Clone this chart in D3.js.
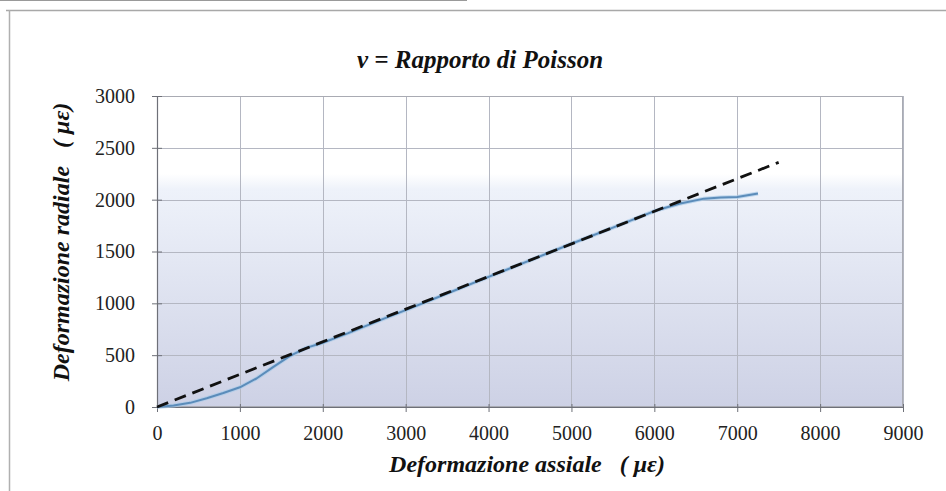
<!DOCTYPE html>
<html>
<head>
<meta charset="utf-8">
<script src="https://cdn.jsdelivr.net/npm/d3@7"></script>
<style>
  html, body { margin: 0; padding: 0; background: #fff; }
  svg { display: block; }
</style>
</head>
<body>
<svg id="chart" width="946" height="491"></svg>
<script>
// Measured strain: axial vs radial (microstrain)
const axialStrain  = [0, 200, 400, 600, 800, 1000, 1200, 1400, 1600, 1800, 2000, 2300, 2700, 3000, 3500, 4000, 4500, 5000, 5500, 6000, 6300, 6600, 6800, 7000, 7250];
const radialStrain = [0, 15, 40, 85, 135, 190, 275, 385, 490, 570, 620, 710, 840, 935, 1095, 1255, 1415, 1575, 1730, 1890, 1960, 2010, 2020, 2025, 2060];

// Linear fit (Poisson ratio line)
const fitAxial  = [0, 7500];
const fitRadial = [0, 2360];

const xTicks = [0, 1000, 2000, 3000, 4000, 5000, 6000, 7000, 8000, 9000];
const yTicks = [0, 500, 1000, 1500, 2000, 2500, 3000];

const titleText  = "ν = Rapporto di Poisson";
const xTitleText = "Deformazione assiale\u00a0\u00a0\u00a0(\u00a0με)";
const yTitleText = "Deformazione radiale\u00a0\u00a0\u00a0(\u00a0με)";

const svg = d3.select("#chart");
const plot = { left: 157, right: 903, top: 96, bottom: 407 };

const x = d3.scaleLinear().domain([0, 9000]).range([plot.left, plot.right]);
const y = d3.scaleLinear().domain([0, 3000]).range([plot.bottom, plot.top]);

// outer frame lines
svg.append("line").attr("x1", 0).attr("x2", 467).attr("y1", 0.5).attr("y2", 0.5)
  .attr("stroke", "#9a9a9a").attr("stroke-width", 1);
svg.append("line").attr("x1", 6).attr("x2", 946).attr("y1", 10.5).attr("y2", 10.5)
  .attr("stroke", "#a8a8a8").attr("stroke-width", 1.5);
svg.append("line").attr("x1", 9.5).attr("x2", 9.5).attr("y1", 10).attr("y2", 491)
  .attr("stroke", "#b0b0b0").attr("stroke-width", 1.5);

// plot background gradient
const defs = svg.append("defs");
const grad = defs.append("linearGradient").attr("id", "bg")
  .attr("x1", 0).attr("x2", 0).attr("y1", 0).attr("y2", 1);
grad.append("stop").attr("offset", "0%").attr("stop-color", "#ffffff");
grad.append("stop").attr("offset", "25%").attr("stop-color", "#ffffff");
grad.append("stop").attr("offset", "30%").attr("stop-color", "#eef2fa");
grad.append("stop").attr("offset", "100%").attr("stop-color", "#cdd1e5");

svg.append("rect")
  .attr("x", plot.left).attr("y", plot.top)
  .attr("width", plot.right - plot.left).attr("height", plot.bottom - plot.top)
  .attr("fill", "url(#bg)");

// gridlines
const grid = svg.append("g").attr("stroke", "#b4b7c2").attr("stroke-width", 1);
grid.selectAll("line.v").data(xTicks).join("line").attr("class", "v")
  .attr("x1", d => Math.round(x(d)) + 0.5).attr("x2", d => Math.round(x(d)) + 0.5)
  .attr("y1", plot.top).attr("y2", plot.bottom);
grid.selectAll("line.h").data(yTicks).join("line").attr("class", "h")
  .attr("x1", plot.left).attr("x2", plot.right)
  .attr("y1", d => Math.round(y(d)) + 0.5).attr("y2", d => Math.round(y(d)) + 0.5);

svg.append("rect")
  .attr("x", plot.left + 0.5).attr("y", plot.top + 0.5)
  .attr("width", plot.right - plot.left - 1).attr("height", plot.bottom - plot.top - 1)
  .attr("fill", "none").attr("stroke", "#a9abb3").attr("stroke-width", 1);

// axes
const tickFont = "'Liberation Serif', 'Times New Roman', serif";
const xAxis = svg.append("g")
  .attr("transform", `translate(0,${plot.bottom})`)
  .call(d3.axisBottom(x).tickValues(xTicks).tickSizeInner(5).tickSizeOuter(0).tickPadding(14).tickFormat(d3.format("d")));
const yAxis = svg.append("g")
  .attr("transform", `translate(${plot.left},0)`)
  .call(d3.axisLeft(y).tickValues(yTicks).tickSizeInner(5).tickSizeOuter(0).tickPadding(17).tickFormat(d3.format("d")));
[xAxis, yAxis].forEach(g => {
  g.select(".domain").attr("stroke", "#6e7078").attr("stroke-width", 1.2);
  g.selectAll(".tick line").attr("stroke", "#6e7078");
  g.selectAll(".tick text").attr("fill", "#222").style("font-family", tickFont).style("font-size", "20px");
});
yAxis.selectAll(".tick line").attr("x2", 5).attr("x1", -5);
xAxis.selectAll(".tick line").attr("y1", -3).attr("y2", 5);

// series
const pts = axialStrain.map((a, i) => [a, radialStrain[i]]);
const lineGen = d3.line().x(d => x(d[0])).y(d => y(d[1]));

svg.append("path").datum(pts)
  .attr("d", lineGen).attr("fill", "none")
  .attr("stroke", "#a9cbe8").attr("stroke-width", 4).attr("stroke-opacity", 0.7)
  .attr("stroke-linejoin", "round");
svg.append("path").datum(pts)
  .attr("d", lineGen).attr("fill", "none")
  .attr("stroke", "#5b8cba").attr("stroke-width", 2)
  .attr("stroke-linejoin", "round");

const fitPts = fitAxial.map((a, i) => [a, fitRadial[i]]);
svg.append("path").datum(fitPts)
  .attr("d", lineGen).attr("fill", "none")
  .attr("stroke", "#111").attr("stroke-width", 2.8)
  .attr("stroke-dasharray", "12,7");

// titles
const titleFont = "'Liberation Serif', 'Times New Roman', serif";
svg.append("text")
  .attr("x", 480).attr("y", 68).attr("text-anchor", "middle")
  .style("font-family", titleFont).style("font-weight", "bold").style("font-style", "italic")
  .style("font-size", "25px").attr("fill", "#111")
  .text(titleText);

svg.append("text")
  .attr("x", 527).attr("y", 472).attr("text-anchor", "middle")
  .style("font-family", titleFont).style("font-weight", "bold").style("font-style", "italic")
  .style("font-size", "24px").attr("fill", "#111")
  .text(xTitleText);

svg.append("text")
  .attr("transform", "translate(69,242) rotate(-90)").attr("text-anchor", "middle")
  .style("font-family", titleFont).style("font-weight", "bold").style("font-style", "italic")
  .style("font-size", "24px").attr("fill", "#111")
  .text(yTitleText);
</script>
</body>
</html>
